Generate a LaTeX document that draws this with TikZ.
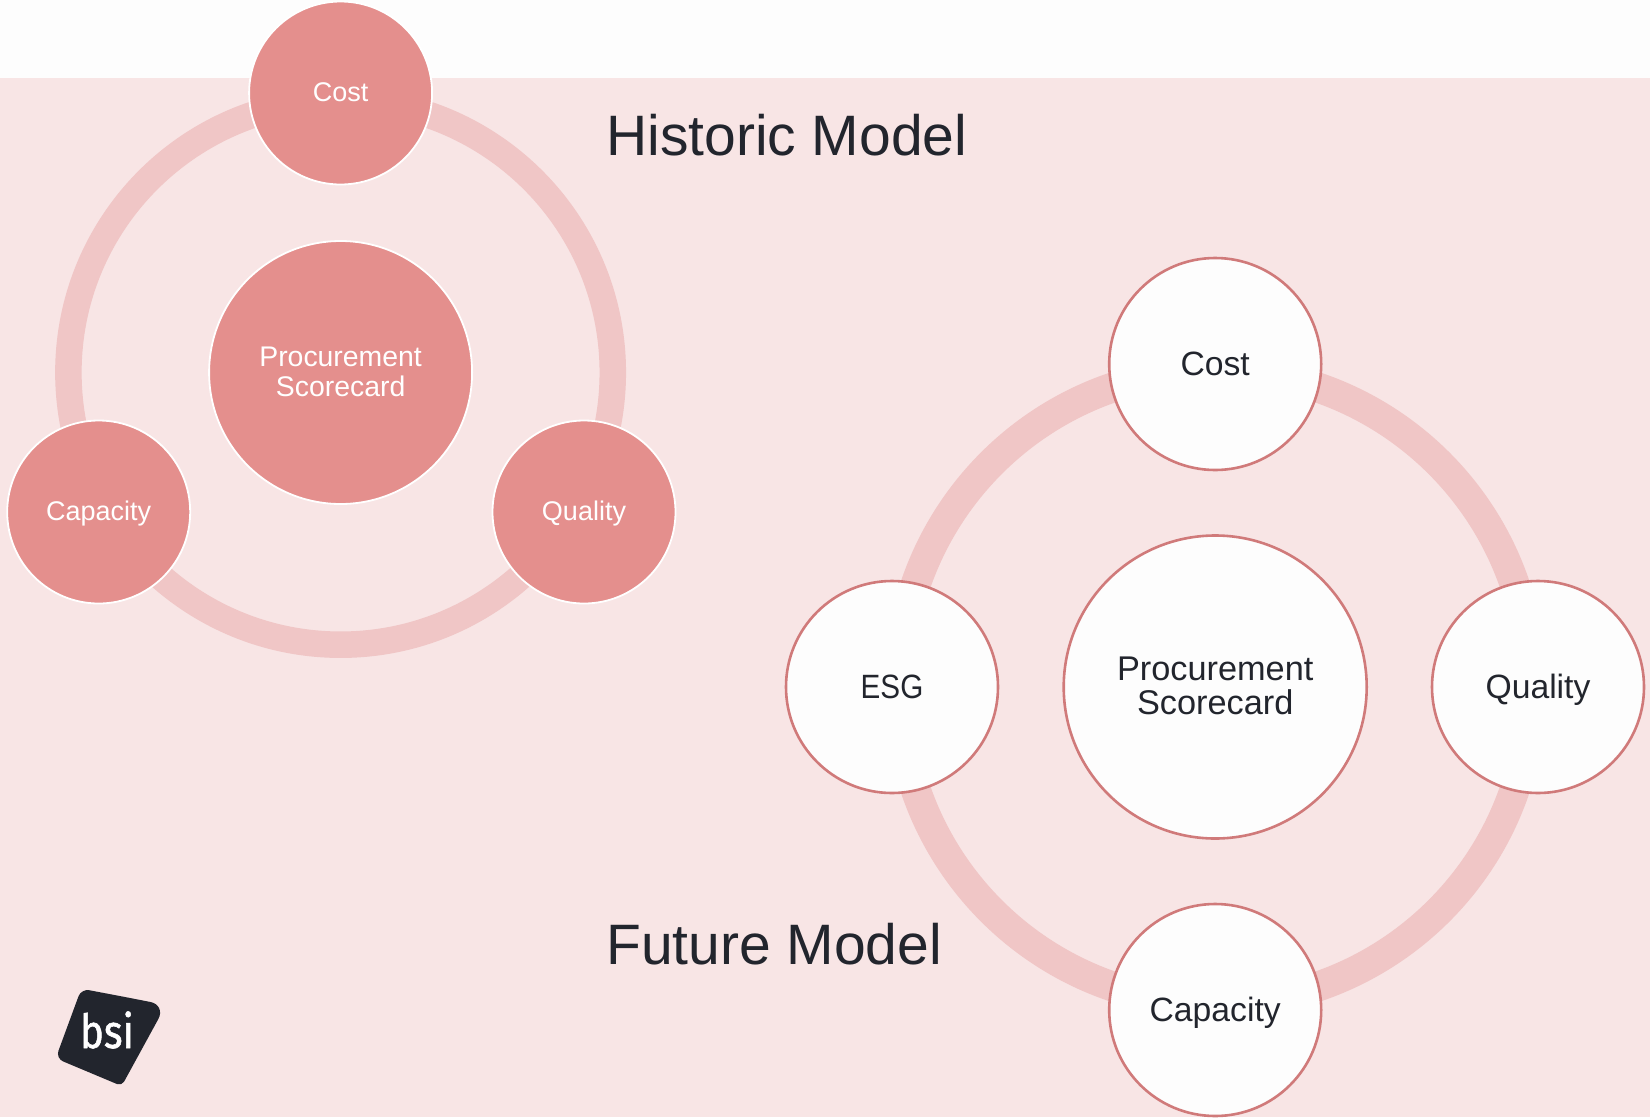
\documentclass[tikz,border=0pt]{standalone}
\usepackage{fontspec}
\usetikzlibrary{shapes.geometric}
\setmainfont{Liberation Sans}
\newfontfamily\logofont[FakeBold=1.2]{Fira Sans}
\newcommand{\lbl}[1]{\rule[-0.21em]{0pt}{1.08em}#1}
\definecolor{bgpink}{HTML}{F8E5E5}
\definecolor{topwhite}{HTML}{FDFDFD}
\definecolor{ringpink}{HTML}{F0C6C6}
\definecolor{rose}{HTML}{E48F8D}
\definecolor{roseedge}{HTML}{D07A7A}
\definecolor{ink}{HTML}{22252D}
\tikzset{
  hist/.style={circle,draw=white,line width=1.8pt,fill=rose,text=white,inner sep=0pt,outer sep=0pt,align=center},
  histsmall/.style={hist,minimum size=183pt,font=\fontsize{27}{30}\selectfont},
  histbig/.style={hist,minimum size=263pt,font=\fontsize{28.4}{29.5}\selectfont},
  fut/.style={circle,draw=roseedge,line width=2.6pt,fill=topwhite,text=ink,inner sep=0pt,outer sep=0pt,align=center},
  futsmall/.style={fut,minimum size=212pt,font=\fontsize{33.7}{34}\selectfont},
  futbig/.style={fut,minimum size=303pt,font=\fontsize{34.3}{33.7}\selectfont},
  heading/.style={anchor=base west,text=ink,inner sep=0pt,font=\fontsize{57}{60}\selectfont},
  ring/.style={draw=ringpink}
}
\begin{document}
\begin{tikzpicture}[x=1pt,y=-1pt]
\useasboundingbox (0,0) rectangle (1650,1117);
\fill[topwhite] (0,0) rectangle (1650,1117);
\fill[bgpink] (0,78) rectangle (1650,1117);
% historic model
\coordinate (hc) at (340.6,372.5);
\draw[ring,line width=26.5pt] (hc) circle [radius=272.2];
\node[histsmall] (hcost) at (340.6,93) {\lbl{Cost}};
\node[histbig] (hcentre) at (hc) {Procurement\\Scorecard\rule[-2pt]{0pt}{1pt}};
\node[histsmall] (hcap) at (98.7,512) {\lbl{Capacity}};
\node[histsmall] (hqual) at (584,512) {\lbl{Quality}};
\node[heading] (htitle) at (606,155) {Historic Model};
% future model
\coordinate (fc) at (1215.2,687);
\draw[ring,line width=30pt] (fc) circle [radius=316.5];
\node[futsmall] (fcost) at (1215.2,364) {\lbl{Cost}};
\node[futbig] (fcentre) at (fc) {Procurement\\Scorecard\rule[-3pt]{0pt}{1pt}};
\node[futsmall] (fesg) at (892,687) {\lbl{\scalebox{0.88}[1]{ESG}}};
\node[futsmall] (fqual) at (1538,687) {\lbl{Quality}};
\node[futsmall] (fcap) at (1215.2,1010) {\lbl{Capacity}};
\node[heading] (ftitle) at (606,964) {Future Model};
% logo
\fill[ink,rounded corners=7pt] (125,997) [rounded corners=16pt] -- (166,1005) [rounded corners=5pt] -- (121.7,1086) [rounded corners=8pt] -- (55.7,1058.3) -- (81.3,988.7) -- cycle;
\node[anchor=base,text=white,inner sep=0pt,xscale=0.85] (logo) at (107,1048) {\logofont\fontsize{47}{47}\selectfont bsi};
\end{tikzpicture}
\end{document}
